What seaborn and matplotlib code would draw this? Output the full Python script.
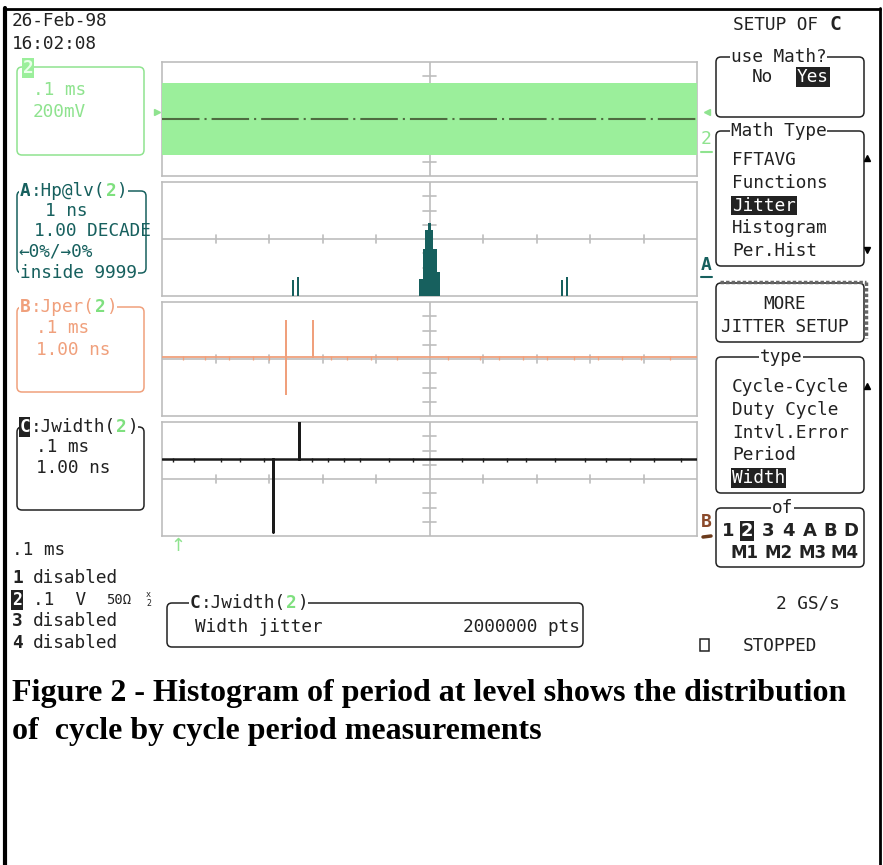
import matplotlib
matplotlib.use("Agg")
import matplotlib.pyplot as plt
from matplotlib.patches import FancyBboxPatch, Rectangle
import seaborn as sns

sns.set_theme(style="white")
plt.rcParams['font.family'] = ['DejaVu Sans Mono', 'DejaVu Sans']

W, H = 883, 865

# ---- data ----
# trace 2 (green clock, drawn as a solid band) in divisions
band_x = [-5, 5]
band_lo = [-2.55, -2.55]
band_hi = [2.55, 2.55]

# trace A : histogram of jitter, 1 ns/div, heights in divisions
hist_edges = [-2.57, -2.53, -2.48, -2.44,
              -0.187, -0.125, -0.075, -0.037, 0.019, 0.069, 0.137, 0.187,
              2.46, 2.50, 2.55, 2.59]
hist_centers = [-2.55, -2.46,
                -0.156, -0.100, -0.056, -0.009, 0.044, 0.103, 0.162,
                2.48, 2.57]
hist_heights = [1.1, 1.35,
                1.2, 3.3, 4.6, 5.1, 4.6, 3.3, 1.7,
                1.1, 1.35]

# trace B : Jper, orange
b_x = [-5, -2.68, -2.68, -2.68, -2.68, -2.18, -2.18, -2.18, 5]
b_y = [0.12, 0.12, 2.7, -2.47, 0.12, 0.12, 2.7, 0.12, 0.12]
b_glitch = [-4.6, -4.2, -3.75, -3.3, -3.0, -1.85, -1.55, -1.1, -0.6, 0.35,
            0.95, 1.3, 1.75, 2.2, 2.7, 3.15, 3.6, 3.95, 4.5]

# trace C : Jwidth, black
c_x = [-5, -2.93, -2.93, -2.93, -2.43, -2.43, -2.43, 5]
c_y = [1.39, 1.39, -3.74, 1.39, 1.39, 4.0, 1.39, 1.39]
c_glitch = [-4.8, -4.4, -3.9, -3.55, -3.1, -2.2, -1.9, -1.6, -1.3, -0.75,
            -0.3, 0.6, 1.0, 1.45, 1.8, 2.35, 2.9, 3.3, 3.75, 4.2, 4.7]

menu_math = ["FFTAVG", "Functions", "Jitter", "Histogram", "Per.Hist"]
menu_type = ["Cycle-Cycle", "Duty Cycle", "Intvl.Error", "Period", "Width"]
channels = ["disabled", None, "disabled", "disabled"]

GREEN = '#8fe38f'
BAND = '#9bef9b'
TEAL = '#17605e'
ORANGE = '#f0a07c'
DARK = '#222222'
GRID = '#bdbdbd'

fig = plt.figure(figsize=(W / 100, H / 100), dpi=100)
fig.patch.set_facecolor('white')

ov = fig.add_axes([0, 0, 1, 1])
ov.set_xlim(0, W)
ov.set_ylim(H, 0)
ov.axis('off')

FS = 12.8
CW = 0.602 * FS * 100 / 72  # mono char width in px


def txt(x, y, s, color=DARK, weight='normal', size=FS, ha='left', inv=False,
        bg=None, family=None):
    kw = {}
    if inv:
        kw['bbox'] = dict(facecolor=DARK, edgecolor='none', pad=0.6)
        color = 'white'
    elif bg:
        kw['bbox'] = dict(facecolor=bg, edgecolor='none', pad=0.5)
    if family:
        kw['family'] = family
    ov.text(x, y, s, color=color, fontsize=size, fontweight=weight,
            ha=ha, va='center', **kw)


def rbox(x0, y0, x1, y1, color=DARK, lw=1.1):
    ov.add_patch(FancyBboxPatch((x0, y0), x1 - x0, y1 - y0,
                                boxstyle="round,pad=0,rounding_size=5",
                                fill=False, edgecolor=color, linewidth=lw))


def segs(x, y, parts):
    # parts: list of (text, color, weight, inverted)
    for s, col, wt, inv in parts:
        txt(x, y, s, color=col, weight=wt, inv=inv, bg='white' if not inv else None)
        x += CW * len(s)


# outer frame
ov.plot([5, 5], [8, H], color='black', lw=3)
ov.plot([4, 880], [9, 9], color='black', lw=2)
ov.plot([880, 880], [8, H], color='black', lw=2)

# date / time
txt(12, 21, "26-Feb-98")
txt(12, 44, "16:02:08")

# channel 2 box
rbox(17, 67, 144, 155, color=GREEN)
txt(23, 68, "2", color='#e9ffe9', weight='bold', bg=BAND)
txt(33, 90, ".1 ms", color=GREEN)
txt(33, 112, "200mV", color=GREEN)

# A box
rbox(17, 191, 146, 273, color=TEAL)
segs(20, 191, [("A", TEAL, 'bold', False), (":Hp@lv(", TEAL, 'normal', False),
               ("2", '#7fe07f', 'bold', False), (")", TEAL, 'normal', False)])
txt(45, 211, "1 ns", color=TEAL)
txt(34, 231, "1.00 DECADE", color=TEAL)
txt(18, 252, "←0%/→0%", color=TEAL)
txt(20, 273, "inside 9999", color=TEAL, bg='white')

# B box
rbox(17, 307, 144, 392, color=ORANGE)
segs(20, 307, [("B", ORANGE, 'bold', False), (":Jper(", ORANGE, 'normal', False),
               ("2", '#7fe07f', 'bold', False), (")", ORANGE, 'normal', False)])
txt(36, 328, ".1 ms", color=ORANGE)
txt(36, 350, "1.00 ns", color=ORANGE)

# C box
rbox(17, 427, 144, 510, color=DARK)
segs(20, 427, [("C", DARK, 'bold', True), (":Jwidth(", DARK, 'normal', False),
               ("2", '#7fe07f', 'bold', False), (")", DARK, 'normal', False)])
txt(36, 447, ".1 ms")
txt(36, 468, "1.00 ns")

# time/div and channel list
txt(12, 550, ".1 ms")
for i, lab in enumerate(channels):
    y = 578 + i * 21.7
    if i == 1:
        txt(12, y, "2", weight='bold', inv=True, size=12)
        txt(33, y, ".1  V")
        txt(106, y, "50Ω", size=10)
        txt(146, y - 5, "x", size=6)
        txt(146, y + 4, "2", size=6)
    else:
        txt(12, y, str(i + 1), weight='bold')
        txt(33, y, lab)

# bottom parameter box
rbox(167, 603, 583, 647)
segs(190, 603, [("C", DARK, 'bold', False), (":Jwidth(", DARK, 'normal', False),
                ("2", '#7fe07f', 'bold', False), (")", DARK, 'normal', False)])
txt(195, 627, "Width jitter")
txt(580, 627, "2000000 pts", ha='right')

txt(776, 604, "2 GS/s")
ov.add_patch(Rectangle((700, 639), 9, 12, fill=False, edgecolor=DARK, lw=1.1))
txt(743, 646, "STOPPED")

# right hand menu
txt(733, 25, "SETUP OF ")
txt(733 + 9 * CW, 25, "C", weight='bold', size=14)

rbox(716, 57, 864, 117)
txt(731, 57, "use Math?", bg='white')
txt(752, 77, "No")
txt(797, 77, "Yes", inv=True)

rbox(716, 131, 864, 266)
txt(731, 131, "Math Type", bg='white')
for i, s in enumerate(menu_math):
    txt(732, 160 + i * 22.8, s, inv=(s == "Jitter"))
ov.plot([867], [158], marker='^', color='black', ms=5)
ov.plot([867], [250], marker='v', color='black', ms=5)

rbox(716, 283, 864, 342)
ov.plot([720, 866], [282, 282], color='#666666', lw=2.5, ls=(0, (1, 0.6)))
ov.plot([866, 866], [282, 338], color='#666666', lw=2.5, ls=(0, (1, 0.6)))
txt(785, 304, "MORE", ha='center')
txt(785, 327, "JITTER SETUP", ha='center')

rbox(716, 357, 864, 493)
txt(760, 357, "type", bg='white')
for i, s in enumerate(menu_type):
    txt(732, 387 + i * 22.8, s, inv=(s == "Width"))
ov.plot([867], [386], marker='^', color='black', ms=5)

rbox(716, 508, 864, 567)
txt(772, 508, "of", bg='white')
for s, x in zip(["1", "2", "3", "4", "A", "B", "D"], [722, 741, 762, 782, 803, 823, 843]):
    txt(x, 531, s, weight='bold', size=13, inv=(s == "2"), family='DejaVu Sans')
for s, x in zip(["M1", "M2", "M3", "M4"], [731, 765, 798, 830]):
    txt(x, 553, s, weight='bold', size=12, family='DejaVu Sans')

# trace markers
ov.plot([157], [112], marker='>', color=GREEN, ms=5)
ov.plot([707], [112], marker='<', color=GREEN, ms=5)
txt(701, 139, "2", color=GREEN, size=13)
ov.plot([701, 712], [152, 152], color=GREEN, lw=1.5)
txt(701, 265, "A", color=TEAL, weight='bold', size=13)
ov.plot([701, 712], [277, 277], color=TEAL, lw=1.5)
txt(701, 522, "B", color='#8b4a2b', weight='bold', size=13)
ov.plot([703, 711], [537, 536], color='#6b3a1b', lw=2.5)
ov.text(178, 546, "↑", color=GREEN, fontsize=13, ha='center', va='center',
        family='DejaVu Sans')

# caption
cap_font = dict(family='Liberation Serif', fontweight='bold', fontsize=23,
                color='black', va='center', ha='left')
ov.text(12, 693, "Figure 2 - Histogram of period at level shows the distribution", **cap_font)
ov.text(12, 731, "of  cycle by cycle period measurements", **cap_font)


# ---- the four graticules ----
def panel(y0, y1, ylim=(-4, 4)):
    ax = fig.add_axes([162 / W, 1 - y1 / H, (697 - 162) / W, (y1 - y0) / H])
    ax.set_xlim(-5, 5)
    ax.set_ylim(*ylim)
    ax.set_xticks([])
    ax.set_yticks([])
    ax.set_facecolor('white')
    for sp in ax.spines.values():
        sp.set_color(GRID)
        sp.set_linewidth(1.2)
    cy = (ylim[0] + ylim[1]) / 2
    ax.axvline(0, color=GRID, lw=1.2)
    ax.axhline(cy, color=GRID, lw=1.2)
    for k in [-4, -3, -2, -1, 1, 2, 3, 4]:
        ax.plot([k, k], [cy - 0.28, cy + 0.28], color=GRID, lw=1.2)
    for k in [-3, -2, -1, 1, 2, 3]:
        ax.plot([-0.12, 0.12], [cy + k, cy + k], color=GRID, lw=1.2)
    return ax


ax1 = panel(62, 176)
ax1.fill_between(band_x, band_lo, band_hi, color=BAND, lw=0, zorder=3)
sns.lineplot(x=band_x, y=[0, 0], ax=ax1, color='#4e6b40', lw=1.5,
             linestyle=(0, (18, 2.4, 1, 2.4)), zorder=4)

ax2 = panel(182, 296, ylim=(0, 8))
sns.histplot(x=hist_centers, weights=hist_heights, bins=hist_edges, ax=ax2,
             stat='count', element='bars', color=TEAL, alpha=1, linewidth=0,
             zorder=3)
ax2.set_xlim(-5, 5)
ax2.set_ylim(0, 8)
ax2.set_xlabel("")
ax2.set_ylabel("")
ax2.set_xticks([])
ax2.set_yticks([])

ax3 = panel(302, 416)
sns.lineplot(x=b_x, y=b_y, ax=ax3, sort=False, estimator=None, color=ORANGE,
             lw=1.3, zorder=3)
sns.scatterplot(x=b_glitch, y=[0.06] * len(b_glitch), ax=ax3, marker='|',
                s=5, color=ORANGE, linewidth=0.9, zorder=3)

ax4 = panel(422, 536)
sns.lineplot(x=c_x, y=c_y, ax=ax4, sort=False, estimator=None, color='#1a1a1a',
             lw=1.8, zorder=3)
sns.scatterplot(x=c_glitch, y=[1.33] * len(c_glitch), ax=ax4, marker='|',
                s=5, color='#1a1a1a', linewidth=1.0, zorder=3)

for a in [ax1, ax2, ax3, ax4]:
    if a.get_legend():
        a.get_legend().remove()

fig.savefig("out.png", dpi=100, facecolor='white')
